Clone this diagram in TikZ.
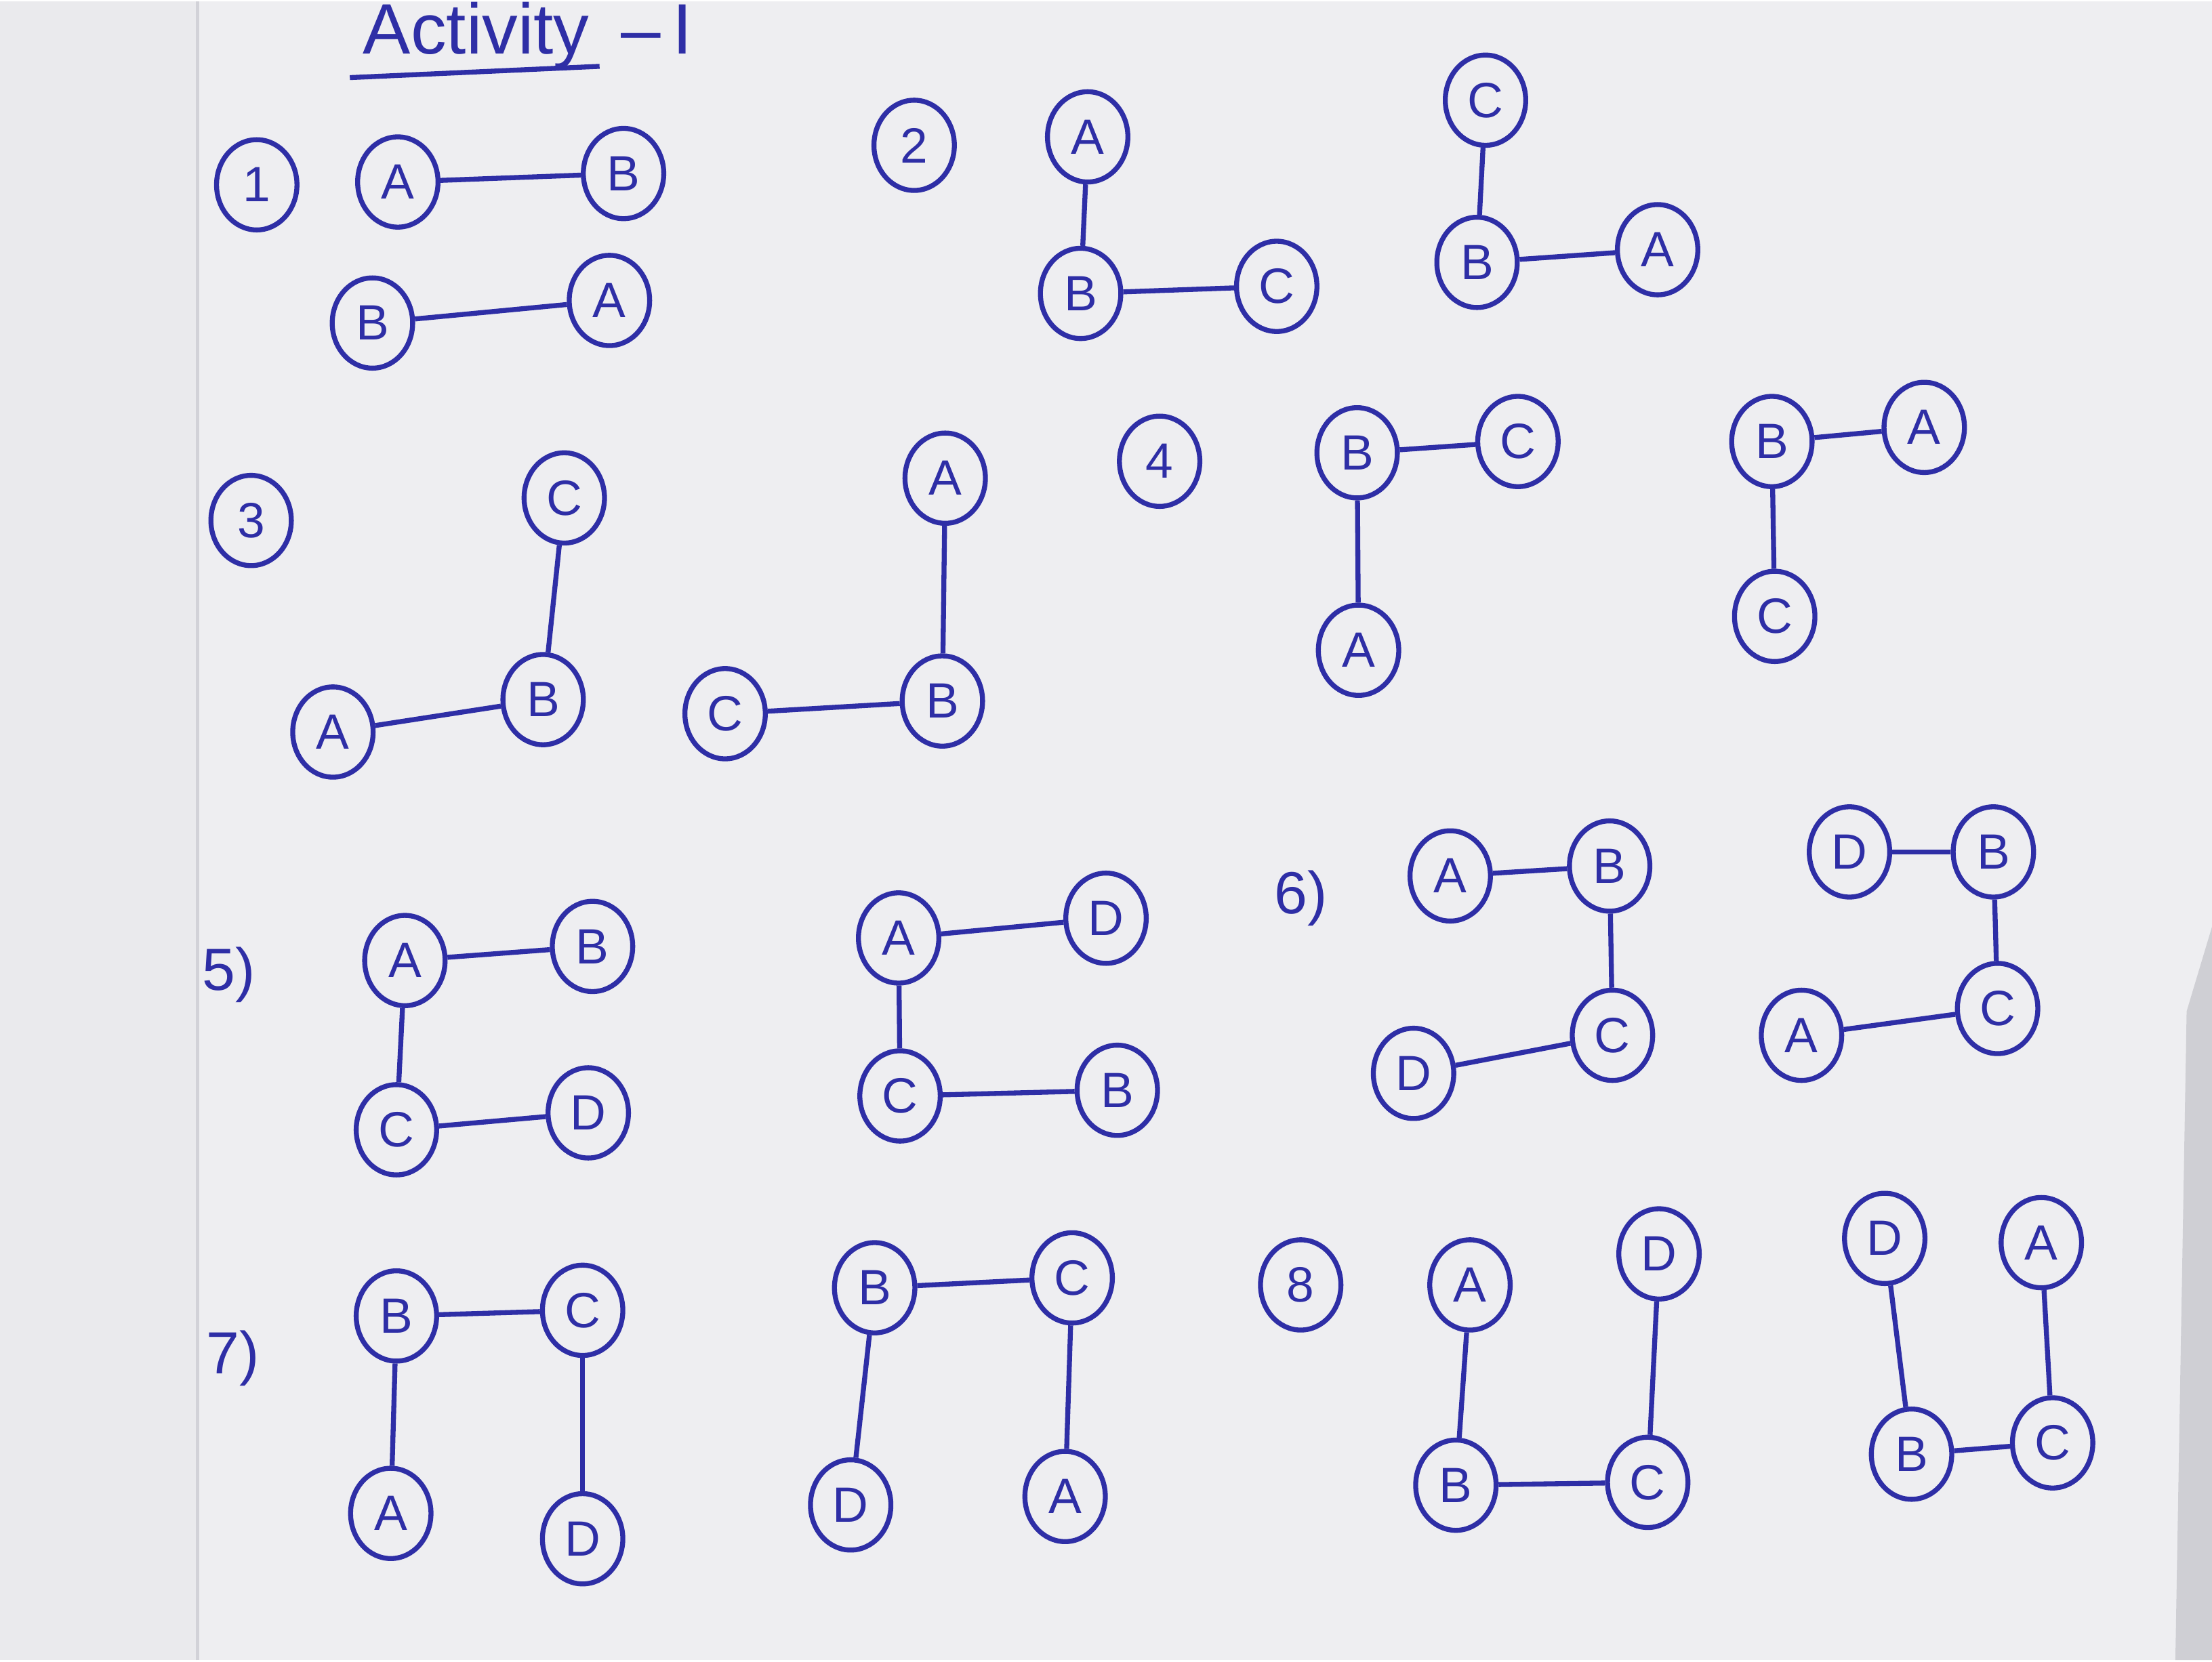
\documentclass[tikz,border=0pt]{standalone}
\usepackage{fontspec}
\setmainfont{Liberation Sans}
\usetikzlibrary{shapes.geometric}
\usepackage{xcolor}
\definecolor{ink}{HTML}{2E2EA6}
\definecolor{paper}{HTML}{EEEEF1}
\definecolor{lpage}{HTML}{EAEAED}
\definecolor{fold}{HTML}{D2D2D8}
\definecolor{desk}{HTML}{CFCFD4}

\begin{document}
\begin{tikzpicture}[font=\normalsize,
    vx/.style={ellipse, draw=ink, line width=1pt, text=ink, inner sep=0pt,
               minimum width=0.57cm, minimum height=0.64cm},
    ed/.style={ink, line width=1pt},
    lbl/.style={text=ink, font=\large}]
    % paper
    \fill[paper] (0,0) rectangle (15.68,11.76);
    \fill[lpage] (0,0) rectangle (1.40,11.76);
    \draw[fold, line width=0.6pt] (1.40,0) -- (1.40,11.76);
    \fill[desk] (15.68,0) -- (15.68,5.2) -- (15.50,4.6) -- (15.42,0) -- cycle;
    \useasboundingbox (0,0) rectangle (15.68,11.76);

    % title
    \node[lbl, font=\Large, anchor=west] (ttl) at (2.45,11.52) {Activity \,--\,I};
    \draw[ed] (2.48,11.22) -- (4.25,11.30);

    % 1
    \node[vx] (n1) at (1.82,10.46) {1};
    \node[vx] (p1A) at (2.82,10.48) {A};
    \node[vx] (p1B) at (4.42,10.54) {B};
    \node[vx] (q1B) at (2.64,9.48) {B};
    \node[vx] (q1A) at (4.32,9.64) {A};
    \draw[ed] (p1A) -- (p1B);
    \draw[ed] (q1B) -- (q1A);

    % 2
    \node[vx] (n2) at (6.48,10.74) {2};
    \node[vx] (p2A) at (7.71,10.80) {A};
    \node[vx] (p2B) at (7.66,9.69) {B};
    \node[vx] (p2C) at (9.05,9.74) {C};
    \draw[ed] (p2A) -- (p2B);
    \draw[ed] (p2B) -- (p2C);
    \node[vx] (q2C) at (10.53,11.06) {C};
    \node[vx] (q2B) at (10.47,9.91) {B};
    \node[vx] (q2A) at (11.75,10.00) {A};
    \draw[ed] (q2C) -- (q2B);
    \draw[ed] (q2B) -- (q2A);

    % 3
    \node[vx] (n3) at (1.78,8.08) {3};
    \node[vx] (p3C) at (4.00,8.24) {C};
    \node[vx] (p3B) at (3.85,6.81) {B};
    \node[vx] (p3A) at (2.36,6.58) {A};
    \draw[ed] (p3C) -- (p3B);
    \draw[ed] (p3A) -- (p3B);
    \node[vx] (q3A) at (6.70,8.38) {A};
    \node[vx] (q3B) at (6.68,6.80) {B};
    \node[vx] (q3C) at (5.14,6.71) {C};
    \draw[ed] (q3A) -- (q3B);
    \draw[ed] (q3C) -- (q3B);

    % 4
    \node[vx] (n4) at (8.22,8.50) {4};
    \node[vx] (p4B) at (9.62,8.56) {B};
    \node[vx] (p4C) at (10.76,8.64) {C};
    \node[vx] (p4A) at (9.63,7.16) {A};
    \draw[ed] (p4B) -- (p4C);
    \draw[ed] (p4B) -- (p4A);
    \node[vx] (q4B) at (12.56,8.64) {B};
    \node[vx] (q4A) at (13.64,8.74) {A};
    \node[vx] (q4C) at (12.58,7.40) {C};
    \draw[ed] (q4B) -- (q4A);
    \draw[ed] (q4B) -- (q4C);

    % 5
    \node[lbl] (n5) at (1.62,4.86) {5)};
    \node[vx] (p5A) at (2.87,4.96) {A};
    \node[vx] (p5B) at (4.20,5.06) {B};
    \node[vx] (p5C) at (2.81,3.76) {C};
    \node[vx] (p5D) at (4.17,3.88) {D};
    \draw[ed] (p5A) -- (p5B);
    \draw[ed] (p5A) -- (p5C);
    \draw[ed] (p5C) -- (p5D);
    \node[vx] (q5A) at (6.37,5.12) {A};
    \node[vx] (q5D) at (7.84,5.26) {D};
    \node[vx] (q5C) at (6.38,4.00) {C};
    \node[vx] (q5B) at (7.92,4.04) {B};
    \draw[ed] (q5A) -- (q5D);
    \draw[ed] (q5A) -- (q5C);
    \draw[ed] (q5C) -- (q5B);

    % 6
    \node[lbl] (n6) at (9.22,5.40) {6)};
    \node[vx] (p6A) at (10.28,5.56) {A};
    \node[vx] (p6B) at (11.41,5.63) {B};
    \node[vx] (p6C) at (11.43,4.43) {C};
    \node[vx] (p6D) at (10.02,4.16) {D};
    \draw[ed] (p6A) -- (p6B);
    \draw[ed] (p6B) -- (p6C);
    \draw[ed] (p6D) -- (p6C);
    \node[vx] (q6D) at (13.11,5.73) {D};
    \node[vx] (q6B) at (14.13,5.73) {B};
    \node[vx] (q6C) at (14.16,4.62) {C};
    \node[vx] (q6A) at (12.77,4.43) {A};
    \draw[ed] (q6D) -- (q6B);
    \draw[ed] (q6B) -- (q6C);
    \draw[ed] (q6A) -- (q6C);

    % 7
    \node[lbl] (n7) at (1.65,2.14) {7)};
    \node[vx] (p7B) at (2.81,2.44) {B};
    \node[vx] (p7C) at (4.13,2.48) {C};
    \node[vx] (p7A) at (2.77,1.04) {A};
    \node[vx] (p7D) at (4.13,0.86) {D};
    \draw[ed] (p7B) -- (p7C);
    \draw[ed] (p7B) -- (p7A);
    \draw[ed] (p7C) -- (p7D);
    \node[vx] (q7B) at (6.20,2.64) {B};
    \node[vx] (q7C) at (7.60,2.71) {C};
    \node[vx] (q7D) at (6.03,1.10) {D};
    \node[vx] (q7A) at (7.55,1.16) {A};
    \draw[ed] (q7B) -- (q7C);
    \draw[ed] (q7B) -- (q7D);
    \draw[ed] (q7C) -- (q7A);

    % 8
    \node[vx] (n8) at (9.22,2.66) {8};
    \node[vx] (p8A) at (10.42,2.66) {A};
    \node[vx] (p8B) at (10.32,1.24) {B};
    \node[vx] (p8C) at (11.68,1.26) {C};
    \node[vx] (p8D) at (11.76,2.88) {D};
    \draw[ed] (p8A) -- (p8B);
    \draw[ed] (p8B) -- (p8C);
    \draw[ed] (p8D) -- (p8C);
    \node[vx] (q8D) at (13.36,2.99) {D};
    \node[vx] (q8B) at (13.55,1.46) {B};
    \node[vx] (q8C) at (14.55,1.54) {C};
    \node[vx] (q8A) at (14.47,2.96) {A};
    \draw[ed] (q8D) -- (q8B);
    \draw[ed] (q8B) -- (q8C);
    \draw[ed] (q8A) -- (q8C);
  \end{tikzpicture}
\end{document}
